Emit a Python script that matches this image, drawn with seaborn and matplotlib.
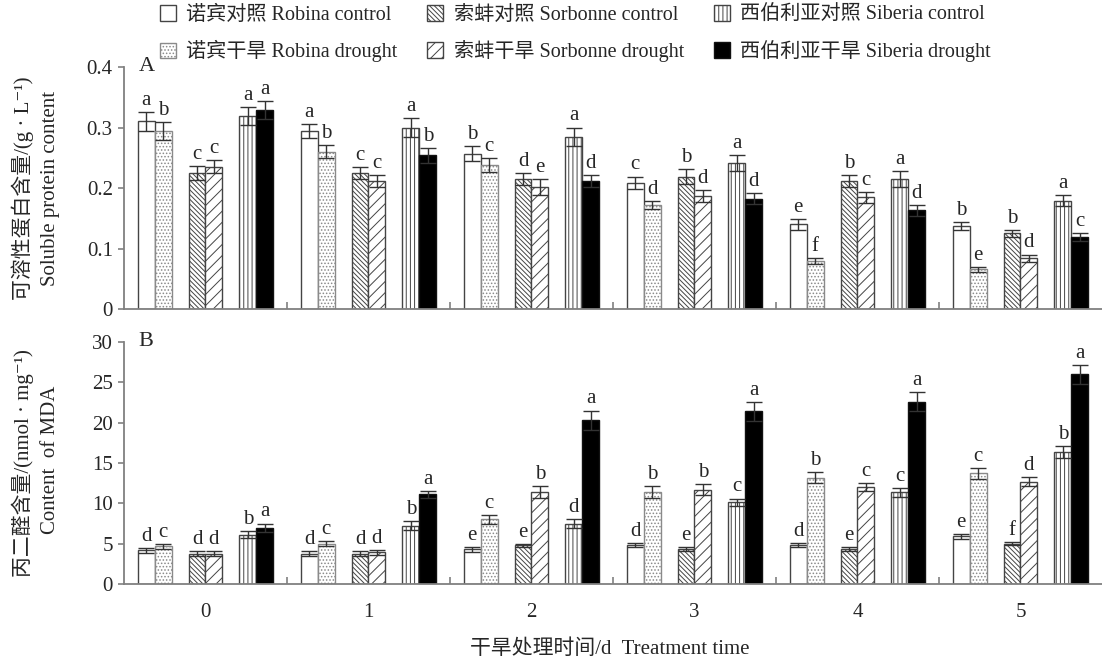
import pandas as pd
import seaborn as sns
import matplotlib.pyplot as plt
from matplotlib.patches import Patch
from matplotlib.ticker import FixedLocator

sns.set_style("ticks")
plt.rcParams['font.family'] = ['Liberation Serif', 'Noto Sans CJK SC', 'DejaVu Serif']
plt.rcParams['hatch.linewidth'] = 0.7

days = ["0", "1", "2", "3", "4", "5"]
treatments = ["诺宾对照 Robina control", "诺宾干旱 Robina drought",
              "索蚌对照 Sorbonne control", "索蚌干旱 Sorbonne drought",
              "西伯利亚对照 Siberia control", "西伯利亚干旱 Siberia drought"]

# A: soluble protein content (g/L)
prot_robina_ck = [0.310, 0.294, 0.257, 0.209, 0.140, 0.137]
prot_robina_dr = [0.294, 0.260, 0.238, 0.172, 0.080, 0.066]
prot_sorb_ck = [0.225, 0.225, 0.215, 0.219, 0.212, 0.125]
prot_sorb_dr = [0.235, 0.212, 0.202, 0.187, 0.185, 0.084]
prot_sib_ck = [0.319, 0.300, 0.285, 0.241, 0.215, 0.179]
prot_sib_dr = [0.329, 0.254, 0.212, 0.182, 0.163, 0.119]

prot_err_robina_ck = [0.015, 0.012, 0.013, 0.010, 0.009, 0.007]
prot_err_robina_dr = [0.015, 0.011, 0.012, 0.007, 0.005, 0.004]
prot_err_sorb_ck = [0.012, 0.010, 0.010, 0.012, 0.010, 0.006]
prot_err_sorb_dr = [0.011, 0.010, 0.013, 0.010, 0.009, 0.006]
prot_err_sib_ck = [0.015, 0.016, 0.015, 0.013, 0.013, 0.009]
prot_err_sib_dr = [0.015, 0.012, 0.010, 0.009, 0.009, 0.007]

prot_letters = [["a", "a", "b", "c", "e", "b"],
                ["b", "b", "c", "d", "f", "e"],
                ["c", "c", "d", "b", "b", "b"],
                ["c", "c", "e", "d", "c", "d"],
                ["a", "a", "a", "a", "a", "a"],
                ["a", "b", "d", "d", "d", "c"]]

# B: MDA content (nmol/mg)
mda_robina_ck = [4.2, 3.75, 4.3, 4.8, 4.8, 5.9]
mda_robina_dr = [4.7, 5.0, 8.0, 11.45, 13.2, 13.7]
mda_sorb_ck = [3.75, 3.75, 4.8, 4.3, 4.3, 5.0]
mda_sorb_dr = [3.75, 3.95, 11.45, 11.7, 12.0, 12.7]
mda_sib_ck = [6.1, 7.25, 7.5, 10.15, 11.35, 16.4]
mda_sib_dr = [7.0, 11.1, 20.3, 21.4, 22.6, 26.0]

mda_err_robina_ck = [0.3, 0.3, 0.3, 0.25, 0.25, 0.35]
mda_err_robina_dr = [0.3, 0.3, 0.5, 0.75, 0.65, 0.7]
mda_err_sorb_ck = [0.3, 0.3, 0.2, 0.25, 0.25, 0.2]
mda_err_sorb_dr = [0.3, 0.3, 0.75, 0.7, 0.5, 0.55]
mda_err_sib_ck = [0.45, 0.5, 0.5, 0.45, 0.6, 0.75]
mda_err_sib_dr = [0.5, 0.45, 1.2, 1.2, 1.2, 1.15]

mda_letters = [["d", "d", "e", "d", "d", "e"],
               ["c", "c", "c", "b", "b", "c"],
               ["d", "d", "e", "e", "e", "f"],
               ["d", "d", "b", "b", "c", "d"],
               ["b", "b", "d", "c", "c", "b"],
               ["a", "a", "a", "a", "a", "a"]]

# styles
faces = ["white", "white", "white", "white", "white", "black"]
edges = ["#444444", "#8a8a8a", "#444444", "#444444", "#444444", "#111111"]
hatches = ["", ".....", "\\" * 7, "///", "||||", ""]

# 8 hue slots: two empty ones make the gaps between the cultivar pairs
slots = [treatments[0], treatments[1], "gap1", treatments[2], treatments[3],
         "gap2", treatments[4], treatments[5]]
slot_to_trt = {0: 0, 1: 1, 3: 2, 4: 3, 6: 4, 7: 5}
bar_w = 0.104
palette = {s: "white" for s in slots}
palette[treatments[5]] = "black"


def long_frame(series, errs):
    rows = []
    for t, vals, ers in zip(treatments, series, errs):
        for d, v, e in zip(days, vals, ers):
            rows.append({"day": d, "treatment": t, "value": v, "err": e})
    return pd.DataFrame(rows)


def draw_panel(ax, df, letters, ymax, yticks, ytick_labels, tag, show_x):
    sns.barplot(data=df, x="day", y="value", hue="treatment", order=days,
                hue_order=slots, palette=palette, width=bar_w * 8,
                errorbar=None, saturation=1, legend=False, ax=ax)
    for p in ax.patches:
        h = p.get_height()
        if not h == h or h == 0:
            continue
        cx = p.get_x() + p.get_width() / 2
        di = int(round(cx))
        slot = int(round((cx - di) / bar_w + 3.5))
        ti = slot_to_trt[slot]
        p.set_facecolor(faces[ti])
        p.set_edgecolor(edges[ti])
        p.set_hatch(hatches[ti])
        p.set_linewidth(1.0)
        err = df[(df.treatment == treatments[ti]) & (df.day == days[di])].err.iloc[0]
        ax.errorbar(cx, h, yerr=err, fmt="none", ecolor="#333333",
                    elinewidth=1.0, capsize=6, capthick=1.0, zorder=4)
        ax.annotate(letters[ti][di], (cx, h + err), xytext=(0, 1.5),
                    textcoords="offset points", ha="center", va="bottom",
                    fontsize=15)
    ax.set_xlim(-0.5, 5.5)
    ax.set_ylim(0, ymax)
    ax.set_yticks(yticks)
    ax.set_yticklabels(ytick_labels, fontsize=15)
    ax.set_xlabel("")
    ax.set_ylabel("")
    ax.xaxis.set_minor_locator(FixedLocator([0.5, 1.5, 2.5, 3.5, 4.5]))
    ax.tick_params(axis="x", which="major", length=0, pad=14, labelsize=15)
    ax.tick_params(axis="x", which="minor", direction="in", length=5,
                   width=1.2, color="#808080")
    ax.tick_params(axis="y", direction="out", length=4, width=1.2,
                   color="#808080", pad=4)
    if not show_x:
        ax.set_xticklabels([])
    for side in ["top", "right"]:
        ax.spines[side].set_visible(False)
    for side in ["left", "bottom"]:
        ax.spines[side].set_color("#808080")
        ax.spines[side].set_linewidth(1.3)
    ax.text(0.015, 1.0, tag, transform=ax.transAxes, fontsize=16,
            ha="left", va="center")


fig = plt.figure(figsize=(11.02, 6.62), dpi=100)
ax_a = fig.add_axes([0.1125, 0.5332, 0.8875, 0.3656])
ax_b = fig.add_axes([0.1125, 0.1178, 0.8875, 0.3656])

prot_df = long_frame(
    [prot_robina_ck, prot_robina_dr, prot_sorb_ck, prot_sorb_dr, prot_sib_ck, prot_sib_dr],
    [prot_err_robina_ck, prot_err_robina_dr, prot_err_sorb_ck, prot_err_sorb_dr,
     prot_err_sib_ck, prot_err_sib_dr])
mda_df = long_frame(
    [mda_robina_ck, mda_robina_dr, mda_sorb_ck, mda_sorb_dr, mda_sib_ck, mda_sib_dr],
    [mda_err_robina_ck, mda_err_robina_dr, mda_err_sorb_ck, mda_err_sorb_dr,
     mda_err_sib_ck, mda_err_sib_dr])

draw_panel(ax_a, prot_df, prot_letters, 0.4, [0, 0.1, 0.2, 0.3, 0.4],
           ["0", "0.1", "0.2", "0.3", "0.4"], "A", False)
draw_panel(ax_b, mda_df, mda_letters, 30, [0, 5, 10, 15, 20, 25, 30],
           ["0", "5", "10", "15", "20", "25", "30"], "B", True)

# y labels (two lines each)
fig.text(0.021, 0.716, "可溶性蛋白含量/(g · L⁻¹)", rotation=90, ha="center",
         va="center", fontsize=15)
fig.text(0.046, 0.716, "Soluble protein content", rotation=90, ha="center",
         va="center", fontsize=15)
fig.text(0.021, 0.300, "丙二醛含量/(nmol · mg⁻¹)", rotation=90, ha="center",
         va="center", fontsize=15)
fig.text(0.046, 0.305, "Content  of MDA", rotation=90, ha="center",
         va="center", fontsize=15)

fig.text(0.553, 0.019, "干旱处理时间/d  Treatment time", ha="center",
         va="center", fontsize=15)

handles = [Patch(facecolor=faces[i], edgecolor=edges[i], hatch=hatches[i],
                 linewidth=1.0, label=treatments[i]) for i in range(6)]
fig.legend(handles=handles, ncol=3, loc="center", bbox_to_anchor=(0.522, 0.949),
           frameon=False, fontsize=14.5, handlelength=0.8, handleheight=0.8,
           handletextpad=0.5, columnspacing=1.5, labelspacing=0.75)

fig.savefig("out.png", dpi=100)
